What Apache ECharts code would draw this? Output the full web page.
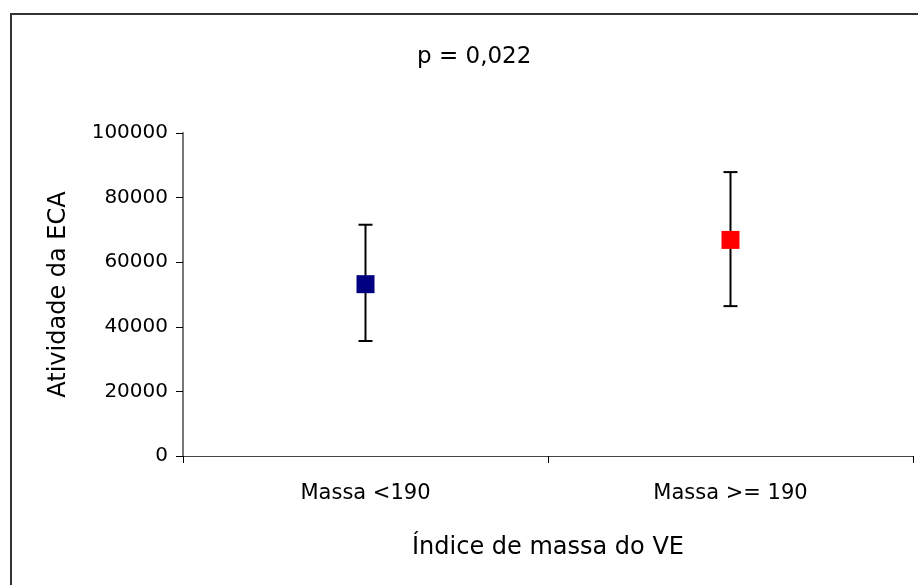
<!DOCTYPE html>
<html>
<head>
    <meta charset="utf-8">
    <title>index</title>
    <style>
        html, body { margin: 0; padding: 0; background: #fff; }
        #container { width: 918px; height: 585px; }
    </style>
</head>
<body>
    <div id="container"></div>
</body>
<script src="https://cdn.jsdelivr.net/npm/echarts@6/dist/echarts.min.js"></script>
<script type="text/javascript">
    var categories = ['Massa <190', 'Massa >= 190'];
    var means = [53200, 66900];
    var lows = [35600, 46400];
    var highs = [71600, 87900];
    var colors = ['#000080', '#ff0000'];
    var yTicks = [0, 20000, 40000, 60000, 80000, 100000];

    var dom = document.getElementById('container');
    var myChart = echarts.init(dom);

    var errData = categories.map(function (c, i) {
        return [i, lows[i], highs[i]];
    });
    var pointData = categories.map(function (c, i) {
        return { value: [i, means[i]], itemStyle: { color: colors[i], opacity: 1 } };
    });

    var font = 'DejaVu Sans';

    var option = {
        backgroundColor: '#fff',
        animation: false,
        title: {
            text: 'p = 0,022',
            left: 412,
            top: 41,
            textStyle: { fontFamily: font, fontSize: 23, fontWeight: 'normal', color: '#000' }
        },
        graphic: [{
            type: 'rect',
            shape: { x: 11, y: 14, width: 930, height: 600 },
            style: { fill: 'none', stroke: '#333', lineWidth: 2 },
            silent: true
        }],
        grid: { left: 183, right: 5, top: 133, bottom: 129 },
        xAxis: {
            type: 'category',
            data: categories,
            boundaryGap: true,
            name: 'Índice de massa do VE',
            nameLocation: 'middle',
            nameGap: 80,
            nameTextStyle: { fontFamily: font, fontSize: 24, color: '#000' },
            axisLine: { lineStyle: { color: '#444', width: 1 } },
            axisTick: { show: true, alignWithLabel: false, length: 7, lineStyle: { color: '#000' } },
            axisLabel: { fontFamily: font, fontSize: 21, color: '#000', margin: 27 },
            splitLine: { show: false }
        },
        yAxis: {
            type: 'value',
            min: yTicks[0],
            max: yTicks[yTicks.length - 1],
            interval: 20000,
            name: 'Atividade da ECA',
            nameLocation: 'middle',
            nameGap: 112,
            nameTextStyle: { fontFamily: font, fontSize: 24, color: '#000' },
            axisLine: { show: true, lineStyle: { color: '#777', width: 2 } },
            axisTick: { show: true, length: 7, lineStyle: { color: '#000' } },
            axisLabel: {
                fontFamily: font, fontSize: 20, color: '#000', margin: 15,
                formatter: function (v) { return String(v); }
            },
            splitLine: { show: false }
        },
        series: [{
            type: 'custom',
            data: errData,
            z: 2,
            renderItem: function (params, api) {
                var x = api.value(0);
                var lo = api.coord([x, api.value(1)]);
                var hi = api.coord([x, api.value(2)]);
                var w = 7;
                var st = { stroke: '#000', lineWidth: 2 };
                return {
                    type: 'group',
                    children: [
                        { type: 'line', shape: { x1: lo[0], y1: lo[1], x2: hi[0], y2: hi[1] }, style: st },
                        { type: 'line', shape: { x1: lo[0] - w, y1: lo[1], x2: lo[0] + w, y2: lo[1] }, style: st },
                        { type: 'line', shape: { x1: hi[0] - w, y1: hi[1], x2: hi[0] + w, y2: hi[1] }, style: st }
                    ]
                };
            }
        }, {
            type: 'scatter',
            data: pointData,
            symbol: 'rect',
            symbolSize: 18,
            z: 3
        }]
    };
    myChart.setOption(option, true);
</script>
</html>
